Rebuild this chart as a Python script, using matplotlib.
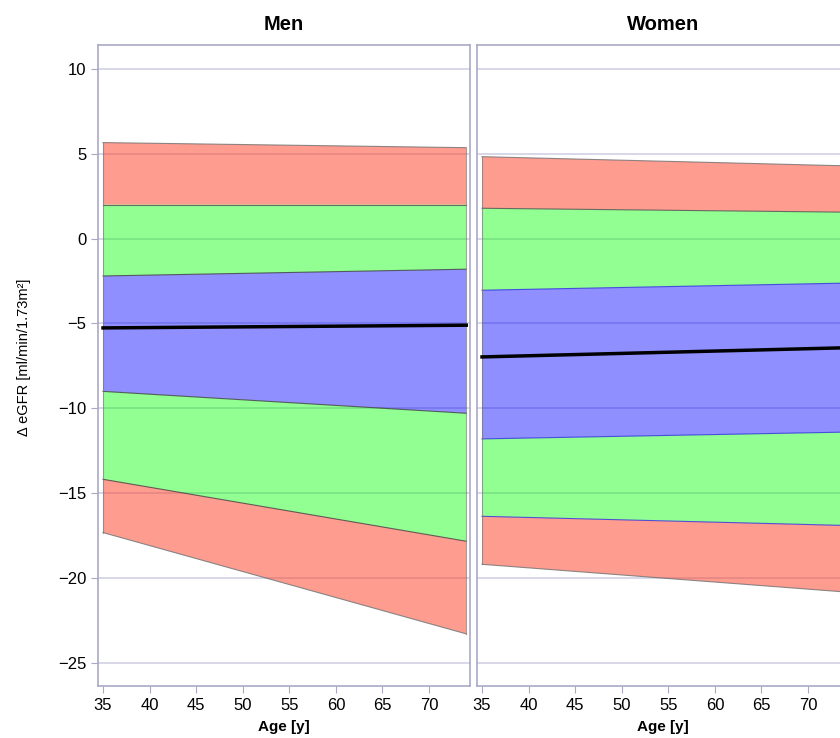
import matplotlib
matplotlib.use("Agg")
import matplotlib.pyplot as plt

plt.rcParams['font.family'] = ['Liberation Sans', 'DejaVu Sans']

age = [35, 74]

# men: band boundaries at age 35 and 74
men_red_top = [5.66, 5.36]
men_green_top = [2.0, 2.0]
men_blue_top = [-2.2, -1.80]
men_median = [-5.26, -5.10]
men_blue_bot = [-9.0, -10.29]
men_green_bot = [-14.18, -17.83]
men_red_bot = [-17.32, -23.29]

# women
women_red_top = [4.83, 4.29]
women_green_top = [1.79, 1.56]
women_blue_top = [-3.04, -2.62]
women_median = [-6.97, -6.43]
women_blue_bot = [-11.8, -11.40]
women_green_bot = [-16.36, -16.90]
women_red_bot = [-19.19, -20.82]

xticks = [35, 40, 45, 50, 55, 60, 65, 70]
yticks = [10, 5, 0, -5, -10, -15, -20, -25]

frame = '#a9a9c6'
grid = '#d4d4e6'

fig = plt.figure(figsize=(8.4, 7.38), dpi=100)
ax1 = fig.add_axes([98/840, 1-686/738, 372/840, 641/738])
ax2 = fig.add_axes([477/840, 1-686/738, 372/840, 641/738])


def panel(ax, title, rt, gt, bt, med, bb, gb, rb, edge):
    for y in yticks:
        ax.axhline(y, color=grid, lw=1.3, zorder=0)
    ax.fill_between(age, gt, rt, facecolor='#ff3b22', alpha=0.5, edgecolor='none')
    ax.fill_between(age, bt, gt, facecolor='#00ff00', alpha=0.43, edgecolor='none')
    ax.fill_between(age, bb, bt, facecolor='#0000ff', alpha=0.44, edgecolor='none')
    ax.fill_between(age, gb, bb, facecolor='#00ff00', alpha=0.43, edgecolor='none')
    ax.fill_between(age, rb, gb, facecolor='#ff3b22', alpha=0.5, edgecolor='none')
    for y, c in [(rt, '#707070'), (gt, '#505050'), (bt, edge), (bb, edge), (gb, edge), (rb, '#707070')]:
        ax.plot(age, y, color=c, lw=0.8, alpha=0.8)
    ax.plot([35, 35], [rb[0], rt[0]], color='#707070', lw=0.8, alpha=0.6)
    ax.plot([74, 74], [rb[1], rt[1]], color='#707070', lw=0.8, alpha=0.6)
    ax.plot(age, med, color='black', lw=2.5)
    ax.set_xlim(34.46, 74.4)
    ax.set_ylim(-26.36, 11.41)
    ax.set_xticks(xticks)
    ax.set_yticks(yticks)
    ax.tick_params(colors=frame, labelcolor='black', labelsize=12, length=5)
    for s in ax.spines.values():
        s.set_color(frame)
        s.set_linewidth(1.2)
    ax.set_title(title, fontsize=14.5, fontweight='bold', pad=11)
    ax.set_xlabel('Age [y]', fontsize=11, fontweight='bold', labelpad=5)


panel(ax1, 'Men', men_red_top, men_green_top, men_blue_top, men_median,
      men_blue_bot, men_green_bot, men_red_bot, '#404040')
panel(ax2, 'Women', women_red_top, women_green_top, women_blue_top, women_median,
      women_blue_bot, women_green_bot, women_red_bot, '#3030e0')
ax1.set_ylabel('Δ eGFR [ml/min/1.73m²]', fontsize=10.5)
ax1.yaxis.set_label_coords(-0.18, 0.513)
ax2.tick_params(axis='y', labelleft=False, length=0)

fig.savefig('out.png', dpi=100)
